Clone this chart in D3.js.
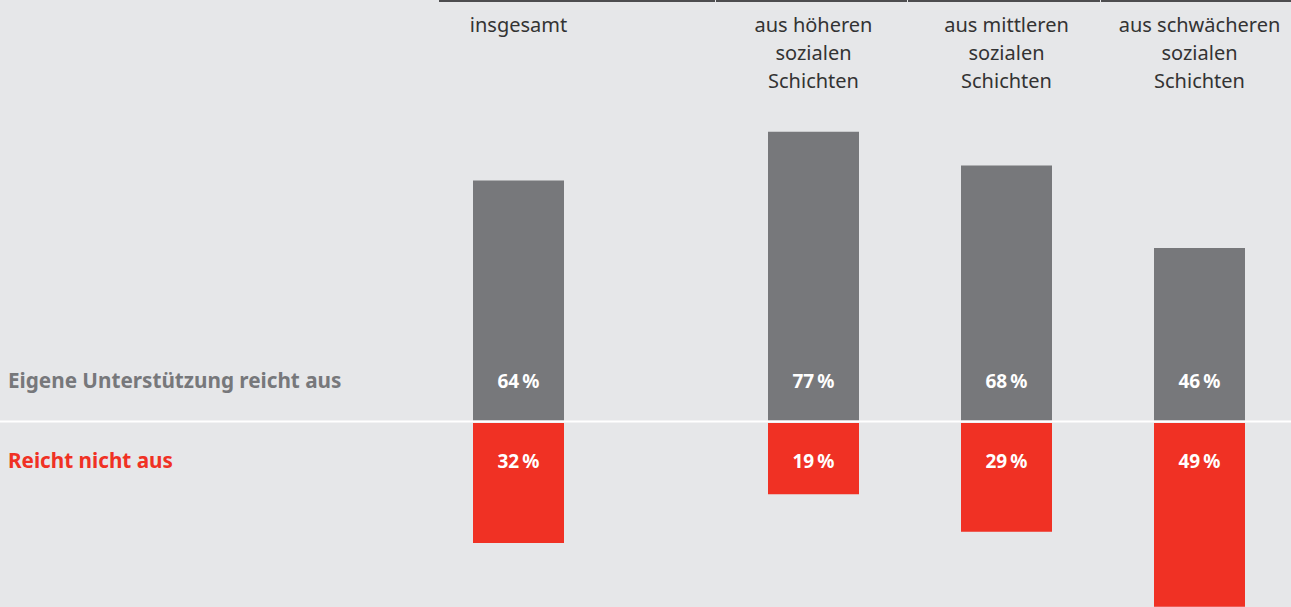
<!DOCTYPE html>
<html><head><meta charset="utf-8">
<script src="https://cdn.jsdelivr.net/npm/d3@7"></script>
<style>
html,body{margin:0;padding:0;background:#e6e7e9;}
svg{display:block;}
text{font-family:"Noto Sans",sans-serif;}
</style></head>
<body>
<svg id="chart" width="1291" height="607"></svg>
<script>
const categories = ["insgesamt", "aus höheren sozialen Schichten", "aus mittleren sozialen Schichten", "aus schwächeren sozialen Schichten"];
const headerLines = [["insgesamt"], ["aus höheren", "sozialen", "Schichten"], ["aus mittleren", "sozialen", "Schichten"], ["aus schwächeren", "sozialen", "Schichten"]];
const seriesNames = ["Eigene Unterstützung reicht aus", "Reicht nicht aus"];
const enough = [64, 77, 68, 46];
const notEnough = [32, 19, 29, 49];

const W = 1291, H = 607;
const svg = d3.select("#chart");
const grey = "#77787b", red = "#f03124", bg = "#e6e7e9";

svg.append("rect").attr("width", W).attr("height", H).attr("fill", bg);

// x: band scale for columns; the first (total) column sits further left
const step = 193, bw = 91;
const x = d3.scaleBand().domain(categories)
  .range([575, 575 + step * (4 - (step - bw) / step)])
  .paddingInner((step - bw) / step).paddingOuter(0).align(0);
const totalShift = -102;
const xPos = (d, i) => x(d) + (i === 0 ? totalShift : 0);

const baseline = 420.5;
const redTop = 423;
const yUp = d3.scaleLinear().domain([0, 100]).range([0, 375]);

// top rule segments
const segs = [[439, 715], [716, 907], [908, 1100], [1101, 1291]];
svg.selectAll("line.top").data(segs).join("line")
  .attr("x1", d => d[0]).attr("x2", d => d[1]).attr("y1", 1).attr("y2", 1)
  .attr("stroke", "#4d4d4f").attr("stroke-width", 2);

// gray bars
svg.selectAll("rect.g").data(enough).join("rect")
  .attr("x", (d, i) => xPos(categories[i], i)).attr("width", x.bandwidth())
  .attr("y", d => baseline - yUp(d)).attr("height", d => yUp(d))
  .attr("fill", grey);

// red bars
svg.selectAll("rect.r").data(notEnough).join("rect")
  .attr("x", (d, i) => xPos(categories[i], i)).attr("width", x.bandwidth())
  .attr("y", redTop).attr("height", d => yUp(d))
  .attr("fill", red);

// white separator
svg.append("rect").attr("x", 0).attr("width", W).attr("y", 420.5).attr("height", 2).attr("fill", "#ffffff");

// header labels
categories.forEach((c, i) => {
  const cx = xPos(c, i) + x.bandwidth() / 2;
  const t = svg.append("text").attr("text-anchor", "middle").attr("fill", "#333333")
    .attr("font-size", 20);
  headerLines[i].forEach((ln, j) => {
    t.append("tspan").attr("x", cx).attr("y", 32 + j * 28).text(ln);
  });
});

// value labels
const fmt = v => v + "\u2009%";
svg.selectAll("text.vg").data(enough).join("text")
  .attr("x", (d, i) => xPos(categories[i], i) + x.bandwidth() / 2)
  .attr("y", 388).attr("text-anchor", "middle").attr("fill", "#ffffff")
  .attr("font-size", 19).attr("font-weight", 700).text(fmt);
svg.selectAll("text.vr").data(notEnough).join("text")
  .attr("x", (d, i) => xPos(categories[i], i) + x.bandwidth() / 2)
  .attr("y", 468).attr("text-anchor", "middle").attr("fill", "#ffffff")
  .attr("font-size", 19).attr("font-weight", 700).text(fmt);

// series labels
svg.append("text").attr("x", 8).attr("y", 388).attr("fill", grey)
  .attr("font-size", 20.7).attr("font-weight", 700).text(seriesNames[0]);
svg.append("text").attr("x", 8).attr("y", 468).attr("fill", red)
  .attr("font-size", 20.7).attr("font-weight", 700).text(seriesNames[1]);
</script>
</body></html>
